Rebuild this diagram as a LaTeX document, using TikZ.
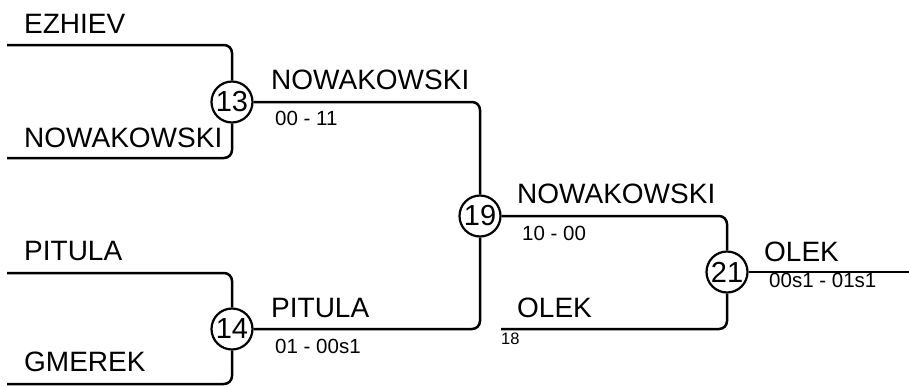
\documentclass[tikz,border=0pt]{standalone}
\usepackage{fontspec}
\setmainfont{Liberation Sans}
\begin{document}
\begin{tikzpicture}[x=1pt,y=-1pt,
  conn/.style={line width=2.5pt,rounded corners=8pt},
  mcirc/.style={circle,draw,line width=2.2pt,minimum size=41pt,inner sep=0pt,font=\fontsize{29}{30}\selectfont},
  player/.style={anchor=base west,inner sep=0pt,font=\fontsize{28}{30}\selectfont},
  scoretxt/.style={anchor=base west,inner sep=0pt,font=\fontsize{20.5}{22}\selectfont},
  seedtxt/.style={anchor=base west,inner sep=0pt,font=\fontsize{16.5}{18}\selectfont}]
\useasboundingbox (0,0) rectangle (909,386);
% matches
\node[mcirc] (m13) at (232,102) {13};
\node[mcirc] (m14) at (232,329) {14};
\node[mcirc] (m19) at (480,216) {19};
\node[mcirc] (m21) at (727,272) {21};
% free ends
\coordinate (e1) at (7,45);
\coordinate (e2) at (7,158);
\coordinate (p1) at (7,273);
\coordinate (p2) at (7,384);
\coordinate (o18) at (501,329);
\coordinate (fin) at (909,272);
% connectors
\draw[conn] (e1) -| (m13);
\draw[conn] (e2) -| (m13);
\draw[conn] (p1) -| (m14);
\draw[conn] (p2) -| (m14);
\draw[conn] (m13) -| (m19);
\draw[conn] (m14) -| (m19);
\draw[conn] (m19) -| (m21);
\draw[conn] (o18) -| (m21);
\draw[conn] (m21) -- (fin);
% names
\node[player] (t1) at (24,33) {EZHIEV};
\node[player] (t2) at (24,147) {NOWAKOWSKI};
\node[player] (t3) at (24,260) {PITULA};
\node[player] (t4) at (24,371) {GMEREK};
\node[player] (w13) at (271,89) {NOWAKOWSKI};
\node[scoretxt] (s13) at (275,125) {00 - 11};
\node[player] (w14) at (271,317) {PITULA};
\node[scoretxt] (s14) at (275,353) {01 - 00s1};
\node[player] (w19) at (517,203) {NOWAKOWSKI};
\node[scoretxt] (s19) at (522,240) {10 - 00};
\node[player] (t18) at (517,317) {OLEK};
\node[seedtxt] (n18) at (501,344) {18};
\node[player] (w21) at (764,261) {OLEK};
\node[scoretxt] (s21) at (769,287) {00s1 - 01s1};
\end{tikzpicture}
\end{document}
